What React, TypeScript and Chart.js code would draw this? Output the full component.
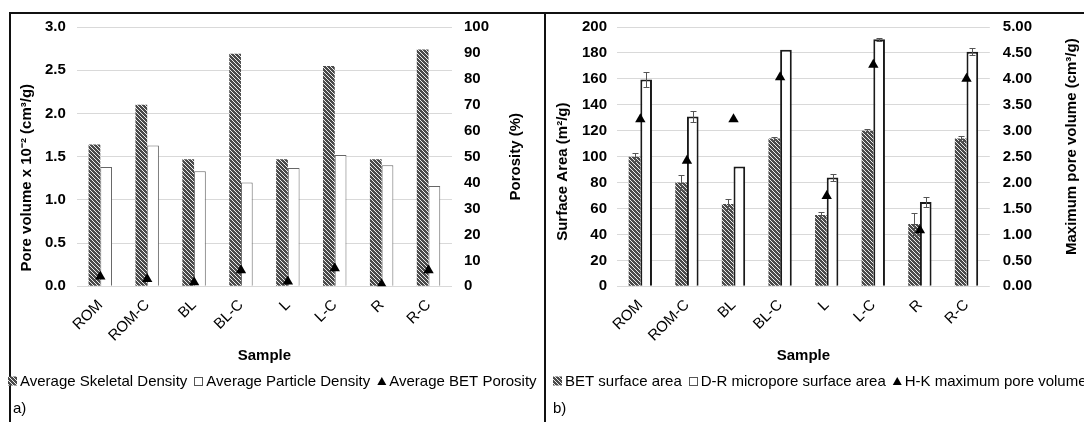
import React, { useEffect, useRef } from 'react';
import { Chart, registerables } from 'chart.js';

Chart.register(...registerables);

const FONT = "'Liberation Sans', Arial, Helvetica, sans-serif";
const FS = 15;
Chart.defaults.font.family = FONT;
Chart.defaults.color = '#000';

// ---------- shared categories ----------
const samples = ['ROM', 'ROM-C', 'BL', 'BL-C', 'L', 'L-C', 'R', 'R-C'];

// ---------- panel a) ----------
const skeletalDensity = [1.64, 2.1, 1.47, 2.69, 1.47, 2.55, 1.47, 2.74];
const particleDensity = [1.38, 1.63, 1.33, 1.2, 1.37, 1.52, 1.4, 1.16];
const betPorosity = [3.8, 2.8, 1.6, 6.2, 1.9, 7.0, 0.8, 6.2];
const aLeftTicks = ['0.0', '0.5', '1.0', '1.5', '2.0', '2.5', '3.0'];
const aRightTicks = ['0', '10', '20', '30', '40', '50', '60', '70', '80', '90', '100'];

// ---------- panel b) ----------
const betSurfaceArea = [100, 80, 63.5, 114, 55, 120, 48, 114];
const betSurfaceAreaErr = [3, 5.5, 3.5, 1, 2, 1, 8.5, 2];
const drSurfaceArea = [159.5, 131, 92.5, 182.5, 84, 190.5, 65, 181];
const drSurfaceAreaErr = [6, 4.5, 0, 0, 3, 1, 4, 2.5];
const hkPoreVolume = [3.22, 2.42, 3.22, 4.03, 1.74, 4.27, 1.08, 4.0];
const bLeftTicks = ['0', '20', '40', '60', '80', '100', '120', '140', '160', '180', '200'];
const bRightTicks = ['0.00', '0.50', '1.00', '1.50', '2.00', '2.50', '3.00', '3.50', '4.00', '4.50', '5.00'];

function makeHatch(): CanvasPattern {
  const c = document.createElement('canvas');
  c.width = 4;
  c.height = 4;
  const g = c.getContext('2d')!;
  g.fillStyle = '#4a4a4a';
  g.fillRect(0, 0, 4, 4);
  g.fillStyle = '#ececec';
  for (let i = 0; i < 4; i++) g.fillRect(i, i, 1, 1);
  return g.createPattern(c, 'repeat')!;
}

const zeroPad = (s: any) => {
  s.paddingLeft = 0;
  s.paddingRight = 0;
  s.paddingTop = 0;
  s.paddingBottom = 0;
};

const errorBarPlugin = {
  id: 'errorBars',
  afterDatasetDraw(chart: any, args: any) {
    const ds: any = chart.data.datasets[args.index];
    if (!ds.errors) return;
    const meta = args.meta;
    const scale = chart.scales[meta.yAxisID];
    const ctx = chart.ctx;
    ctx.save();
    ctx.strokeStyle = '#555';
    ctx.lineWidth = 1;
    meta.data.forEach((bar: any, i: number) => {
      const e = ds.errors[i];
      if (!e) return;
      const v = ds.data[i];
      const x = Math.round(bar.x) + 0.5;
      const y1 = Math.round(scale.getPixelForValue(v + e)) + 0.5;
      const y2 = Math.round(scale.getPixelForValue(v - e)) + 0.5;
      ctx.beginPath();
      ctx.moveTo(x, y1);
      ctx.lineTo(x, y2);
      ctx.moveTo(x - 3, y1);
      ctx.lineTo(x + 3, y1);
      ctx.moveTo(x - 3, y2);
      ctx.lineTo(x + 3, y2);
      ctx.stroke();
    });
    ctx.restore();
  },
};

// vertical axis titles reading bottom-to-top (also on the right axis)
const axisTitlePlugin = {
  id: 'axisTitles',
  afterDraw(chart: any, _args: any, opts: any) {
    const ctx = chart.ctx;
    const area = chart.chartArea;
    (opts.titles || []).forEach((t: any) => {
      const s = chart.scales[t.scale];
      const lh = FS * 1.2;
      const x = s.position === 'left' ? s.left + t.pad + lh / 2 : s.right - t.pad - lh / 2;
      const y = (area.top + area.bottom) / 2 + t.dy;
      ctx.save();
      ctx.translate(x, y);
      ctx.rotate(-Math.PI / 2);
      ctx.textAlign = 'center';
      ctx.textBaseline = 'middle';
      ctx.fillStyle = '#000';
      ctx.font = `bold ${FS}px ${FONT}`;
      ctx.fillText(t.text, 0, 0);
      ctx.restore();
    });
  },
};

// single-row legend (the original runs edge to edge without wrapping)
const rowLegendPlugin = {
  id: 'rowLegend',
  afterDraw(chart: any, _args: any, opts: any) {
    const ctx = chart.ctx;
    const m = 9;
    let x = opts.x;
    const y = opts.y;
    ctx.save();
    ctx.font = `${FS}px ${FONT}`;
    ctx.textAlign = 'left';
    ctx.textBaseline = 'middle';
    (opts.items || []).forEach((it: any) => {
      if (it.shape === 'triangle') {
        ctx.fillStyle = it.fill;
        ctx.beginPath();
        ctx.moveTo(x, y + 4);
        ctx.lineTo(x + m, y + 4);
        ctx.lineTo(x + m / 2, y - 4);
        ctx.closePath();
        ctx.fill();
      } else {
        ctx.fillStyle = it.fill;
        ctx.fillRect(x, y - m / 2, m, m);
        if (it.stroke) {
          ctx.strokeStyle = it.stroke;
          ctx.lineWidth = 1;
          ctx.strokeRect(Math.round(x) + 0.5, Math.round(y - m / 2) + 0.5, m - 1, m - 1);
        }
      }
      x += m + 3;
      ctx.fillStyle = '#000';
      ctx.fillText(it.text, x, y + 0.5);
      x += ctx.measureText(it.text).width + 7;
    });
    ctx.restore();
  },
};

function yScale(position: string, min: number, max: number, step: number, labels: string[], grid: boolean, pad: number, titlePad: { top: number; bottom: number }) {
  return {
    type: 'linear',
    position,
    min,
    max,
    afterFit: zeroPad,
    grid: { display: grid, color: '#d9d9d9', drawTicks: false },
    border: { display: false },
    ticks: {
      stepSize: step,
      padding: pad,
      color: '#000',
      font: { size: FS, weight: 'bold' },
      callback: (_v: any, i: number) => labels[i],
    },
    title: {
      display: true,
      text: 'M',
      color: 'rgba(0,0,0,0)',
      font: { size: FS, weight: 'bold' },
      padding: titlePad,
    },
  };
}

function xScale() {
  return {
    afterFit: zeroPad,
    grid: { display: false },
    border: { display: false },
    ticks: { minRotation: 45, maxRotation: 45, padding: 2, color: '#000', font: { size: FS } },
    title: {
      display: true,
      text: 'Sample',
      color: '#000',
      font: { size: FS, weight: 'bold' },
      padding: { top: 0, bottom: 0 },
    },
  };
}

function titleOpts(text: string) {
  return {
    display: true,
    text,
    position: 'bottom',
    align: 'start',
    color: '#000',
    font: { size: FS, weight: 'normal' },
    padding: { top: 35, bottom: 4 },
  };
}

function buildA(hatch: CanvasPattern): any {
  return {
    type: 'bar',
    data: {
      labels: samples,
      datasets: [
        { label: 'Average Skeletal Density', data: skeletalDensity, backgroundColor: hatch, borderWidth: 0, yAxisID: 'y', order: 1 },
        { label: 'Average Particle Density', data: particleDensity, backgroundColor: '#fff', borderColor: '#666', borderWidth: 1, yAxisID: 'y', order: 1 },
        {
          type: 'line', label: 'Average BET Porosity', data: betPorosity, yAxisID: 'y1', showLine: false,
          pointStyle: 'triangle', pointRadius: 6, backgroundColor: '#000', borderColor: '#000', borderWidth: 0, order: 0,
        },
      ],
    },
    options: {
      responsive: false,
      animation: false,
      devicePixelRatio: 1,
      layout: { padding: { left: 13, right: 19, top: 27, bottom: 0 } },
      datasets: { bar: { barPercentage: 1, categoryPercentage: 0.5 } },
      scales: {
        x: xScale(),
        y: yScale('left', 0, 3, 0.5, aLeftTicks, true, 11, { top: 0, bottom: 3 }),
        y1: yScale('right', 0, 100, 10, aRightTicks, false, 12, { top: 0, bottom: 6 }),
      },
      plugins: {
        legend: { display: false },
        title: titleOpts('a)'),
        tooltip: { enabled: false },
        rowLegend: {
          x: 8,
          y: 381,
          items: [
            { text: 'Average Skeletal Density', fill: hatch },
            { text: 'Average Particle Density', fill: '#fff', stroke: '#555' },
            { text: 'Average BET Porosity', fill: '#000', shape: 'triangle' },
          ],
        },
        axisTitles: {
          titles: [
            { scale: 'y', text: 'Pore volume x 10⁻² (cm³/g)', pad: 5, dy: 21 },
            { scale: 'y1', text: 'Porosity (%)', pad: 0, dy: 0 },
          ],
        },
      },
    },
    plugins: [errorBarPlugin, axisTitlePlugin, rowLegendPlugin],
  };
}

function buildB(hatch: CanvasPattern): any {
  return {
    type: 'bar',
    data: {
      labels: samples,
      datasets: [
        { label: 'BET surface area', data: betSurfaceArea, errors: betSurfaceAreaErr, backgroundColor: hatch, borderWidth: 0, yAxisID: 'y', order: 1 },
        { label: 'D-R micropore surface area', data: drSurfaceArea, errors: drSurfaceAreaErr, backgroundColor: '#fff', borderColor: '#1a1a1a', borderWidth: 2, yAxisID: 'y', order: 1 },
        {
          type: 'line', label: 'H-K maximum pore volume', data: hkPoreVolume, yAxisID: 'y1', showLine: false,
          pointStyle: 'triangle', pointRadius: 6, backgroundColor: '#000', borderColor: '#000', borderWidth: 0, order: 0,
        },
      ],
    },
    options: {
      responsive: false,
      animation: false,
      devicePixelRatio: 1,
      layout: { padding: { left: 7, right: 3, top: 27, bottom: 0 } },
      datasets: { bar: { barPercentage: 1, categoryPercentage: 0.5 } },
      scales: {
        x: xScale(),
        y: yScale('left', 0, 200, 20, bLeftTicks, true, 10, { top: 0, bottom: 1 }),
        y1: yScale('right', 0, 5, 0.5, bRightTicks, false, 13, { top: 0, bottom: 18 }),
      },
      plugins: {
        legend: { display: false },
        title: titleOpts('b)'),
        tooltip: { enabled: false },
        rowLegend: {
          x: 7,
          y: 381,
          items: [
            { text: 'BET surface area', fill: hatch },
            { text: 'D-R micropore surface area', fill: '#fff', stroke: '#555' },
            { text: 'H-K maximum pore volume', fill: '#000', shape: 'triangle' },
          ],
        },
        axisTitles: {
          titles: [
            { scale: 'y', text: 'Surface Area (m²/g)', pad: 1, dy: 15 },
            { scale: 'y1', text: 'Maximum pore volume (cm³/g)', pad: 0, dy: -10 },
          ],
        },
      },
    },
    plugins: [errorBarPlugin, axisTitlePlugin, rowLegendPlugin],
  };
}

export default function App() {
  const refA = useRef<HTMLCanvasElement>(null);
  const refB = useRef<HTMLCanvasElement>(null);
  useEffect(() => {
    const hatch = makeHatch();
    const a = new Chart(refA.current!, buildA(hatch));
    const b = new Chart(refB.current!, buildB(hatch));
    return () => {
      a.destroy();
      b.destroy();
    };
  }, []);
  return (
    <div style={{ position: 'fixed', left: 0, top: 0, width: 1084, height: 422, background: '#fff', overflow: 'hidden' }}>
      <div style={{ position: 'absolute', left: 9, top: 12, width: 1100, height: 430, borderTop: '2px solid #111', borderLeft: '2px solid #111' }} />
      <div style={{ position: 'absolute', left: 544, top: 12, width: 0, height: 430, borderLeft: '2px solid #111' }} />
      <canvas ref={refA} width={544} height={422} style={{ position: 'absolute', left: 0, top: 0, width: 544, height: 422 }} />
      <canvas ref={refB} width={538} height={422} style={{ position: 'absolute', left: 546, top: 0, width: 538, height: 422 }} />
    </div>
  );
}
